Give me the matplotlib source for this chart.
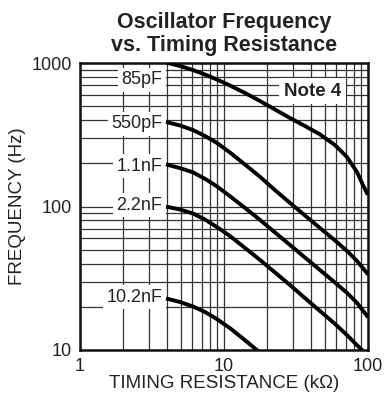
import matplotlib
matplotlib.use('Agg')
import matplotlib.pyplot as plt
from matplotlib.ticker import LogLocator, NullFormatter, FixedLocator

plt.rcParams['font.family'] = ['Liberation Sans', 'DejaVu Sans']

# timing resistance (kOhm)
r_pts = [4.08, 4.95, 6.09, 7.38, 8.94, 11.0, 14.0, 17.8, 22.6, 28.7, 36.5, 46.4, 59.0, 71.5, 83.9]

# oscillator frequency (Hz) for each timing capacitor
f_85p = [1000, 953, 893, 831, 767, 697, 618, 543, 474, 414, 364, 318, 268, 221, 174]
r_85p = r_pts + [92.3, 98.4]
f_85p = f_85p + [141, 124]

r_550p = r_pts + [98.4]
f_550p = [385, 367, 341, 310, 277, 238, 196, 161, 130, 106, 86.6, 70.8, 58.0, 49.0, 41.7, 34.4]

r_1n1 = r_pts + [98.4]
f_1n1 = [195, 185, 173, 156, 138, 118, 97.7, 80.6, 65.9, 54.0, 44.1, 36.1, 29.5, 25.0, 21.3, 17.3]

r_2n2 = r_pts + [90.8]
f_2n2 = [99.2, 95.3, 89.3, 81.1, 71.9, 62.3, 51.4, 42.4, 34.7, 28.4, 23.0, 18.7, 15.2, 12.7, 10.8, 10.0]

r_10n2 = r_pts[:7] + [16.9]
f_10n2 = [22.7, 21.6, 20.1, 18.4, 16.4, 14.2, 11.7, 10.0]

cap_labels = ['85pF', '550pF', '1.1nF', '2.2nF', '10.2nF']
label_freq = [762, 376, 191, 102, 23.4]

curves = [(r_85p, f_85p), (r_550p, f_550p), (r_1n1, f_1n1),
          (r_2n2, f_2n2), (r_10n2, f_10n2)]

fig = plt.figure(figsize=(3.85, 4.0), dpi=100)
ax = fig.add_axes([0.2078, 0.125, 0.748, 0.7175])

for r, f in curves:
    ax.plot(r, f, color='black', lw=2.8, solid_joinstyle='round', zorder=4)

for txt, fy in zip(cap_labels, label_freq):
    ax.text(3.72, fy, txt, ha='right', va='center', fontsize=13, color='#222222',
            bbox=dict(facecolor='white', edgecolor='none', pad=2.5), zorder=3)

ax.text(41.5, 638, 'Note 4', ha='center', va='center', fontsize=13.5,
        fontweight='bold', color='#222222',
        bbox=dict(facecolor='white', edgecolor='none', pad=3.5), zorder=3)

ax.set_xscale('log')
ax.set_yscale('log')
ax.set_xlim(1, 100)
ax.set_ylim(10, 1000)

ax.xaxis.set_major_locator(FixedLocator([1, 10, 100]))
ax.yaxis.set_major_locator(FixedLocator([10, 100, 1000]))
ax.set_xticklabels(['1', '10', '100'])
ax.set_yticklabels(['10', '100', '1000'])
ax.xaxis.set_minor_locator(LogLocator(base=10, subs=range(2, 10)))
ax.yaxis.set_minor_locator(LogLocator(base=10, subs=range(2, 10)))
ax.xaxis.set_minor_formatter(NullFormatter())
ax.yaxis.set_minor_formatter(NullFormatter())

ax.grid(True, which='both', color='#333333', lw=0.9, zorder=1)
ax.set_axisbelow(True)
ax.tick_params(which='both', length=0, labelsize=13, labelcolor='#222222')
ax.tick_params(axis='x', pad=6)
ax.tick_params(axis='y', pad=6)

for s in ax.spines.values():
    s.set_linewidth(1.8)
    s.set_color('#111111')

ax.set_xlabel('TIMING RESISTANCE (k\u03a9)', fontsize=13.5, color='#222222', labelpad=0)
ax.set_ylabel('FREQUENCY (Hz)', fontsize=13.5, color='#222222', labelpad=4)
ax.set_title('Oscillator Frequency\nvs. Timing Resistance', fontsize=15.5,
             fontweight='bold', color='#222222', linespacing=1.1, pad=9)

fig.savefig('out.png', dpi=100)
